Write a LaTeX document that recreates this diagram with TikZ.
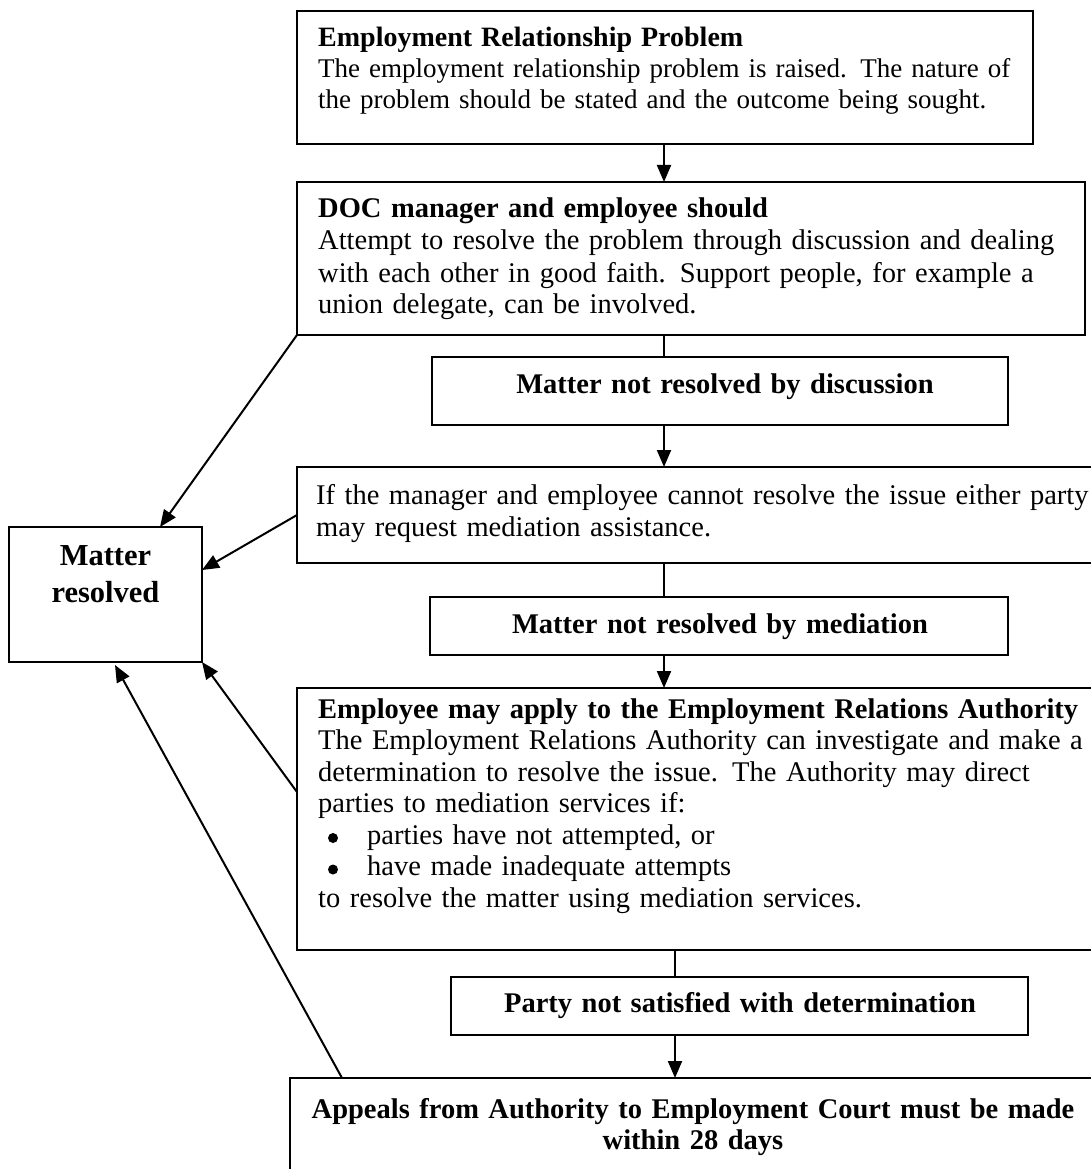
\documentclass[tikz,border=0pt]{standalone}
\usepackage{fontspec}
\setmainfont{Liberation Serif}
\usetikzlibrary{arrows.meta}
\begin{document}
\begin{tikzpicture}[x=1pt,y=1pt,
  box/.style={draw, line width=2pt, inner sep=0pt, outer sep=0pt},
  con/.style={line width=2pt},
  arr/.style={line width=2pt, -{Triangle[length=17pt,width=14pt]}},
  bul/.style={fill=black},
  txt/.style={inner sep=0pt, anchor=base west, align=left, text width=#1},
  ctxt/.style={inner sep=0pt, anchor=base, align=center, text width=#1,
    font=\fontsize{28.5}{31.5}\selectfont\bfseries}]
\useasboundingbox (0,0) rectangle (1091,-1169);
\clip (0,0) rectangle (1091,-1169);
\fill[white] (0,0) rectangle (1091,-1169);

% boxes
\node[box, minimum width=736pt, minimum height=133pt] (top)    at (665,-77.5) {};
\node[box, minimum width=788pt, minimum height=153pt] (doc)    at (691,-258.5) {};
\node[box, minimum width=576pt, minimum height=68pt]  (disc)   at (720,-391) {};
\node[box, minimum width=813pt, minimum height=96pt]  (med)    at (703.5,-515) {};
\node[box, minimum width=578pt, minimum height=58pt]  (medn)   at (719,-626) {};
\node[box, minimum width=813pt, minimum height=262pt] (era)    at (703.5,-819) {};
\node[box, minimum width=577pt, minimum height=58pt]  (party)  at (739.5,-1006) {};
\node[box, minimum width=820pt, minimum height=112pt] (appeal) at (700,-1134) {};
\node[box, minimum width=193pt, minimum height=135pt] (mr)     at (105.5,-594.5) {};

% texts
\node[txt=720pt, font=\fontsize{27}{31}\selectfont] (toptext) at (318,-47)
  {{\fontsize{28}{31}\selectfont\bfseries Employment Relationship Problem}\\
   \makebox[700pt][s]{The employment relationship problem is raised. The nature of}\\
   the problem should be stated and the outcome being sought.};
\node[txt=770pt, font=\fontsize{28.5}{32}\selectfont] (doctext) at (318,-218)
  {{\bfseries DOC manager and employee should}\\
   Attempt to resolve the problem through discussion and dealing\\
   with each other in good faith. Support people, for example a\\
   union delegate, can be involved.};
\node[ctxt=560pt] (disctext) at (725,-393) {Matter not resolved by discussion};
\node[txt=775pt, font=\fontsize{28.5}{32}\selectfont] (medtext) at (316,-504)
  {\makebox[769pt][s]{If the manager and employee cannot resolve the issue either party}\\
   may request mediation assistance.};
\node[ctxt=560pt] (medntext) at (720,-633) {Matter not resolved by mediation};
\node[txt=770pt, font=\fontsize{28.5}{31.5}\selectfont] (eratext) at (318,-718)
  {{\bfseries Employee may apply to the Employment Relations Authority}\\
   The Employment Relations Authority can investigate and make a\\
   determination to resolve the issue. The Authority may direct\\
   parties to mediation services if:\\
   \hspace*{49pt}parties have not attempted, or\\
   \hspace*{49pt}have made inadequate attempts\\
   to resolve the matter using mediation services.};
\fill[bul] ([shift={(15pt,-120pt)}]eratext.base west) circle (5pt);
\fill[bul] ([shift={(15pt,-151.5pt)}]eratext.base west) circle (5pt);
\node[ctxt=560pt] (partytext) at (740,-1012) {Party not satisfied with determination};
\node[ctxt=800pt] (appealtext) at (693,-1118)
  {Appeals from Authority to Employment Court must be made\\ within 28 days};
\node[ctxt=190pt, font=\fontsize{30.5}{37}\selectfont\bfseries] (mrtext) at (105.5,-565)
  {Matter\\ resolved};

% connectors
\coordinate (cx1) at (664,0);
\coordinate (cx2) at (675,0);
\draw[arr] (top.south -| cx1) -- (doc.north -| cx1);
\draw[con] (doc.south -| cx1) -- (disc.north -| cx1);
\draw[arr] (disc.south -| cx1) -- (med.north -| cx1);
\draw[con] (med.south -| cx1) -- (medn.north -| cx1);
\draw[arr] (medn.south -| cx1) -- (era.north -| cx1);
\draw[con] (era.south -| cx2) -- (party.north -| cx2);
\draw[arr] (party.south -| cx2) -- (appeal.north -| cx2);

\draw[arr] (doc.south west) -- ([xshift=151pt]mr.north west);
\draw[arr] (med.west) -- ([yshift=24.5pt]mr.east);
\draw[arr] ([yshift=27pt]era.west) -- (mr.south east);
\draw[arr] ([xshift=52pt]appeal.north west) -- ([xshift=106pt,yshift=-3pt]mr.south west);
\end{tikzpicture}
\end{document}
